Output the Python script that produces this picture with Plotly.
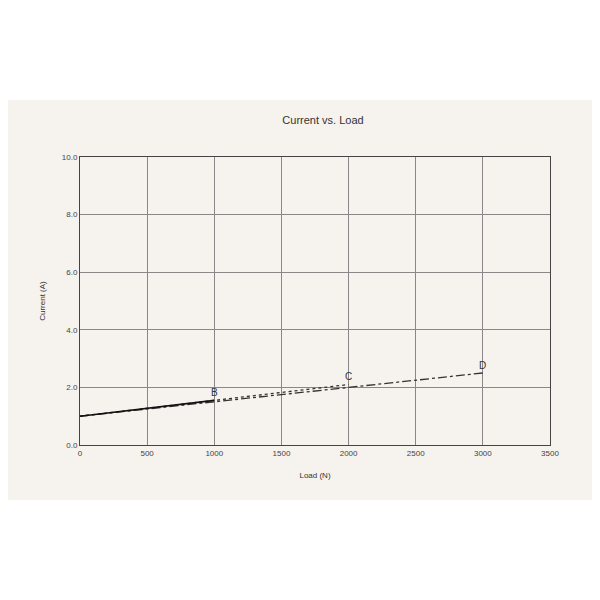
import plotly.graph_objects as go

load_b = [0, 1000]; cur_b = [1.0, 1.55]
load_c = [0, 2000]; cur_c = [1.0, 2.1]
load_d = [0, 3000]; cur_d = [1.0, 2.5]
labels = [("B", 1000, 1.55), ("C", 2000, 2.1), ("D", 3000, 2.5)]

bg = "#f6f2ed"
fig = go.Figure()
fig.add_trace(go.Scatter(x=load_d, y=cur_d, mode="lines", line=dict(color="#333", width=1.3, dash="dashdot")))
fig.add_trace(go.Scatter(x=load_c, y=cur_c, mode="lines", line=dict(color="#333", width=1.3, dash="dot")))
fig.add_trace(go.Scatter(x=load_b, y=cur_b, mode="lines", line=dict(color="#111", width=1.6)))
for t, x, y in labels:
    fig.add_annotation(x=x, y=y, text=t, showarrow=False, yshift=8, font=dict(size=10, color="#333"))
fig.add_shape(type="rect", xref="paper", yref="paper", x0=-0.3, x1=1.3, y0=-0.191, y1=1.198,
              fillcolor=bg, line_width=0, layer="below")
ax = dict(showline=True, linecolor="#444", gridcolor="#888", gridwidth=1, zeroline=False,
          ticks="", tickfont=dict(size=8, color="#444"), mirror=True)
fig.update_layout(
    width=600, height=600, paper_bgcolor="white", plot_bgcolor=bg, showlegend=False,
    margin=dict(l=72, r=58, t=149, b=163),
    font=dict(family="Liberation Sans", color="#333"),
    title=dict(text="Current vs. Load", x=0.525, xanchor="center", y=0.813, yanchor="middle", font=dict(size=11)),
    xaxis=dict(range=[0, 3500], dtick=500, title=dict(text="Load (N)", font=dict(size=8)), **ax),
    yaxis=dict(range=[0, 10], dtick=2, tickformat=".1f", title=dict(text="Current (A)", font=dict(size=8)), **ax),
)
fig.write_html("out.html")
